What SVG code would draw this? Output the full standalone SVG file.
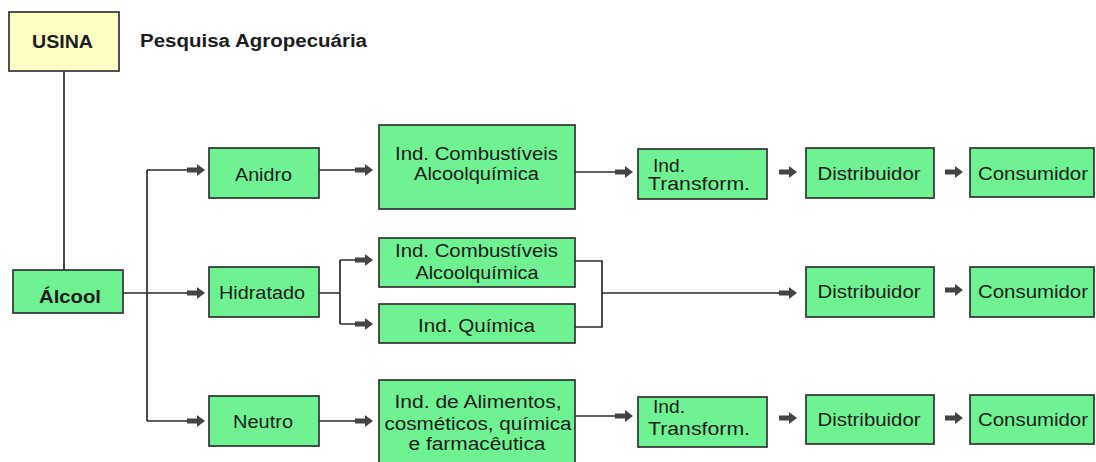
<svg xmlns="http://www.w3.org/2000/svg" xmlns:xlink="http://www.w3.org/1999/xlink" width="1096" height="462" viewBox="0 0 1096 462">
<style>
.box{fill:#6ff292;stroke:#333;stroke-width:1.7}
.usina{fill:#ffffc4;stroke:#333;stroke-width:1.7}
.t{font-family:"Liberation Sans",Arial,sans-serif;font-size:18px;fill:#1c1c1c}
.c{text-anchor:middle}
.b{font-weight:bold}
.ln{fill:none;stroke:#2a2a2a;stroke-width:1.7}
.ah{fill:#444}
</style>
<defs>
<path id="arr" class="ah" d="M-18,-2.4 H-8 V-6 L0,0 L-8,6 V2.4 H-18 Z"/>
</defs>
<rect width="1096" height="462" fill="#fff"/>

<g id="connectors">
<path class="ln" d="M64,71 V270"/>
<path class="ln" d="M123,293 H188"/>
<path class="ln" d="M147,170 V421"/>
<path class="ln" d="M147,170 H188"/>
<path class="ln" d="M147,421 H188"/>
<use xlink:href="#arr" x="205" y="170"/>
<use xlink:href="#arr" x="205" y="293"/>
<use xlink:href="#arr" x="205" y="421"/>
<path class="ln" d="M319,170 H356"/>
<use xlink:href="#arr" x="373" y="170"/>
<path class="ln" d="M319,293 H340 M340,260 V324 M340,260 H356 M340,324 H356"/>
<use xlink:href="#arr" x="373" y="260"/>
<use xlink:href="#arr" x="373" y="324"/>
<path class="ln" d="M319,421 H356"/>
<use xlink:href="#arr" x="373" y="421"/>
<path class="ln" d="M575,172 H616"/>
<use xlink:href="#arr" x="633" y="172"/>
<path class="ln" d="M575,416 H616"/>
<use xlink:href="#arr" x="633" y="416"/>
<path class="ln" d="M575,261 H602 V327 H575 M602,293 H780"/>
<use xlink:href="#arr" x="797" y="293"/>
<use xlink:href="#arr" x="797" y="172"/>
<use xlink:href="#arr" x="797" y="418"/>
<use xlink:href="#arr" x="963" y="172"/>
<use xlink:href="#arr" x="963" y="290"/>
<use xlink:href="#arr" x="963" y="418"/>
</g>

<g id="usina">
<rect class="usina" x="9" y="12" width="110" height="59"/>
<text class="t b c" x="62.5" y="48" textLength="61" lengthAdjust="spacingAndGlyphs">USINA</text>
</g>
<g id="pesquisa">
<text class="t b" x="140" y="47" textLength="227" lengthAdjust="spacingAndGlyphs">Pesquisa Agropecuária</text>
</g>
<g id="alcool">
<rect class="box" x="13" y="270" width="110" height="43"/>
<text class="t b c" x="70" y="303" textLength="62" lengthAdjust="spacingAndGlyphs">Álcool</text>
</g>
<g id="anidro">
<rect class="box" x="209" y="148" width="110" height="50"/>
<text class="t c" x="263.5" y="181" textLength="57" lengthAdjust="spacingAndGlyphs">Anidro</text>
</g>
<g id="hidratado">
<rect class="box" x="209" y="267" width="110" height="50"/>
<text class="t c" x="262" y="299" textLength="86" lengthAdjust="spacingAndGlyphs">Hidratado</text>
</g>
<g id="neutro">
<rect class="box" x="209" y="396" width="110" height="50"/>
<text class="t c" x="263" y="428" textLength="60" lengthAdjust="spacingAndGlyphs">Neutro</text>
</g>
<g id="ind-comb-1">
<rect class="box" x="379" y="125" width="196" height="84"/>
<text class="t c" x="476.5" y="160" textLength="163" lengthAdjust="spacingAndGlyphs">Ind. Combustíveis</text>
<text class="t c" x="476.5" y="180" textLength="125" lengthAdjust="spacingAndGlyphs">Alcoolquímica</text>
</g>
<g id="ind-comb-2">
<rect class="box" x="379" y="238" width="196" height="49"/>
<text class="t c" x="476.5" y="257" textLength="163" lengthAdjust="spacingAndGlyphs">Ind. Combustíveis</text>
<text class="t c" x="477" y="279" textLength="123" lengthAdjust="spacingAndGlyphs">Alcoolquímica</text>
</g>
<g id="ind-quimica">
<rect class="box" x="379" y="304" width="196" height="39"/>
<text class="t c" x="476.5" y="332" textLength="117" lengthAdjust="spacingAndGlyphs">Ind. Química</text>
</g>
<g id="ind-alimentos">
<rect class="box" x="379" y="380" width="196" height="95"/>
<text class="t c" x="478" y="408" textLength="167" lengthAdjust="spacingAndGlyphs">Ind. de Alimentos,</text>
<text class="t c" x="478" y="430" textLength="187" lengthAdjust="spacingAndGlyphs">cosméticos, química</text>
<text class="t c" x="477" y="450" textLength="137" lengthAdjust="spacingAndGlyphs">e farmacêutica</text>
</g>
<g id="transform-1">
<rect class="box" x="638" y="149" width="129" height="50"/>
<text class="t" x="653" y="172" textLength="32" lengthAdjust="spacingAndGlyphs">Ind.</text>
<text class="t" x="648" y="190" textLength="102" lengthAdjust="spacingAndGlyphs">Transform.</text>
</g>
<g id="transform-2">
<rect class="box" x="638" y="397" width="129" height="50"/>
<text class="t" x="653" y="413" textLength="32" lengthAdjust="spacingAndGlyphs">Ind.</text>
<text class="t" x="648" y="435" textLength="102" lengthAdjust="spacingAndGlyphs">Transform.</text>
</g>
<g id="distribuidor-1">
<rect class="box" x="806" y="148" width="128" height="50"/>
<text class="t c" x="869" y="180" textLength="103" lengthAdjust="spacingAndGlyphs">Distribuidor</text>
</g>
<g id="distribuidor-2">
<rect class="box" x="806" y="267" width="128" height="50"/>
<text class="t c" x="869" y="298" textLength="103" lengthAdjust="spacingAndGlyphs">Distribuidor</text>
</g>
<g id="distribuidor-3">
<rect class="box" x="806" y="395" width="128" height="49"/>
<text class="t c" x="869" y="426" textLength="103" lengthAdjust="spacingAndGlyphs">Distribuidor</text>
</g>
<g id="consumidor-1">
<rect class="box" x="970" y="148" width="124" height="49"/>
<text class="t c" x="1033" y="180" textLength="110" lengthAdjust="spacingAndGlyphs">Consumidor</text>
</g>
<g id="consumidor-2">
<rect class="box" x="970" y="267" width="124" height="50"/>
<text class="t c" x="1033" y="298" textLength="110" lengthAdjust="spacingAndGlyphs">Consumidor</text>
</g>
<g id="consumidor-3">
<rect class="box" x="970" y="395" width="124" height="49"/>
<text class="t c" x="1033" y="426" textLength="110" lengthAdjust="spacingAndGlyphs">Consumidor</text>
</g>
</svg>
